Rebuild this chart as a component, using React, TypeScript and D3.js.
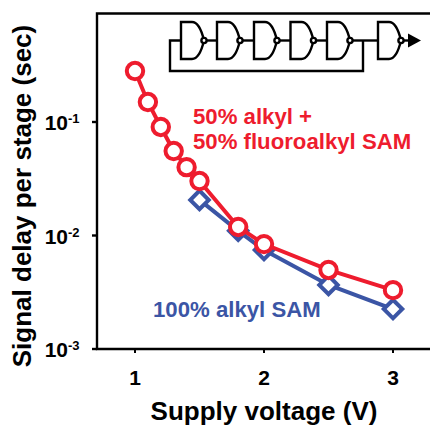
import React from "react";
import * as d3 from "d3";

const redX = [1, 1.1, 1.2, 1.3, 1.4, 1.5, 1.8, 2, 2.5, 3];
const redY = [0.281, 0.15, 0.0904, 0.0555, 0.04, 0.0302, 0.0119, 0.0084, 0.00497, 0.0033];
const blueX = [1.5, 1.8, 2, 2.5, 3];
const blueY = [0.0206, 0.011, 0.00745, 0.00367, 0.00225];
const xTicks = [1, 2, 3];
const yTicks = [-1, -2, -3];
const gateStarts = [181, 217, 254, 290.5, 327, 378];

const RED = "#ee1c2e";
const BLUE = "#3b55a5";
const FONT = "'Liberation Sans', Arial, sans-serif";

export default function App() {
  const x = d3.scaleLinear().domain([1, 3]).range([135, 393]);
  const y = d3.scaleLog().domain([1e-3, 1e-1]).range([349, 122]);
  const line = d3.line<[number, number]>().x((d) => x(d[0])).y((d) => y(d[1]));
  const red = redX.map((v, i) => [v, redY[i]] as [number, number]);
  const blue = blueX.map((v, i) => [v, blueY[i]] as [number, number]);
  const gy = 40.5;
  return (
    <svg width={430} height={427} style={{ position: "absolute", left: 0, top: 0 }} fontFamily={FONT} fontWeight="bold">
      <rect width={430} height={427} fill="#fff" />
      <path d="M430,13.5H97V349H430" fill="none" stroke="#000" strokeWidth={2.4} />
      {yTicks.map((t) => (
        <g key={t}>
          <line x1={92} x2={97} y1={y(10 ** t)} y2={y(10 ** t)} stroke="#000" strokeWidth={2.4} />
          <text x={68} y={y(10 ** t) + 8} textAnchor="end" fontSize={21}>10</text>
          <text x={68} y={y(10 ** t) + 1} fontSize={13}>{"-" + Math.abs(t)}</text>
        </g>
      ))}
      {xTicks.map((t) => (
        <g key={t}>
          <line x1={x(t)} x2={x(t)} y1={349} y2={353} stroke="#000" strokeWidth={2} />
          <text x={x(t)} y={385} textAnchor="middle" fontSize={21}>{t}</text>
        </g>
      ))}
      <text x={264} y={420} textAnchor="middle" fontSize={26}>Supply voltage (V)</text>
      <text transform="translate(31,196) rotate(-90)" textAnchor="middle" fontSize={26}>Signal delay per stage (sec)</text>

      <path d={line(blue)!} fill="none" stroke={BLUE} strokeWidth={4} />
      {blue.map((d, i) => (
        <path key={i} d={d3.symbol(d3.symbolSquare, 170)()!} transform={`translate(${x(d[0])},${y(d[1])}) rotate(45)`} fill="#fff" stroke={BLUE} strokeWidth={4} />
      ))}
      <path d={line(red)!} fill="none" stroke={RED} strokeWidth={4} />
      {red.map((d, i) => (
        <circle key={i} cx={x(d[0])} cy={y(d[1])} r={8.2} fill="#fff" stroke={RED} strokeWidth={4} />
      ))}

      <text x={193} y={124} fontSize={22.2} fill={RED}>50% alkyl +</text>
      <text x={193} y={149} fontSize={22.2} fill={RED}>50% fluoroalkyl SAM</text>
      <text x={153} y={317} fontSize={22.2} fill={BLUE}>100% alkyl SAM</text>

      <g fill="none" stroke="#000" strokeWidth={2.4}>
        <path d={`M181,${gy}H170V71H363V${gy}`} />
        {gateStarts.map((g, i) => (
          <g key={i}>
            <path d={`M${g},22H${g + 11}C${g + 17},22 ${g + 21},32 ${g + 23},${gy}C${g + 21},49 ${g + 17},59 ${g + 11},59H${g}Z`} fill="#fff" />
            <circle cx={g + 23} cy={gy} r={2.6} fill="#fff" />
            {i < 4 && <path d={`M${g + 26},${gy}H${gateStarts[i + 1]}`} />}
          </g>
        ))}
        <path d={`M353,${gy}H378`} />
        <path d={`M404,${gy}H410`} />
      </g>
      <path d={`M408,${gy - 7}L421,${gy}L408,${gy + 7}Z`} fill="#000" />
    </svg>
  );
}
